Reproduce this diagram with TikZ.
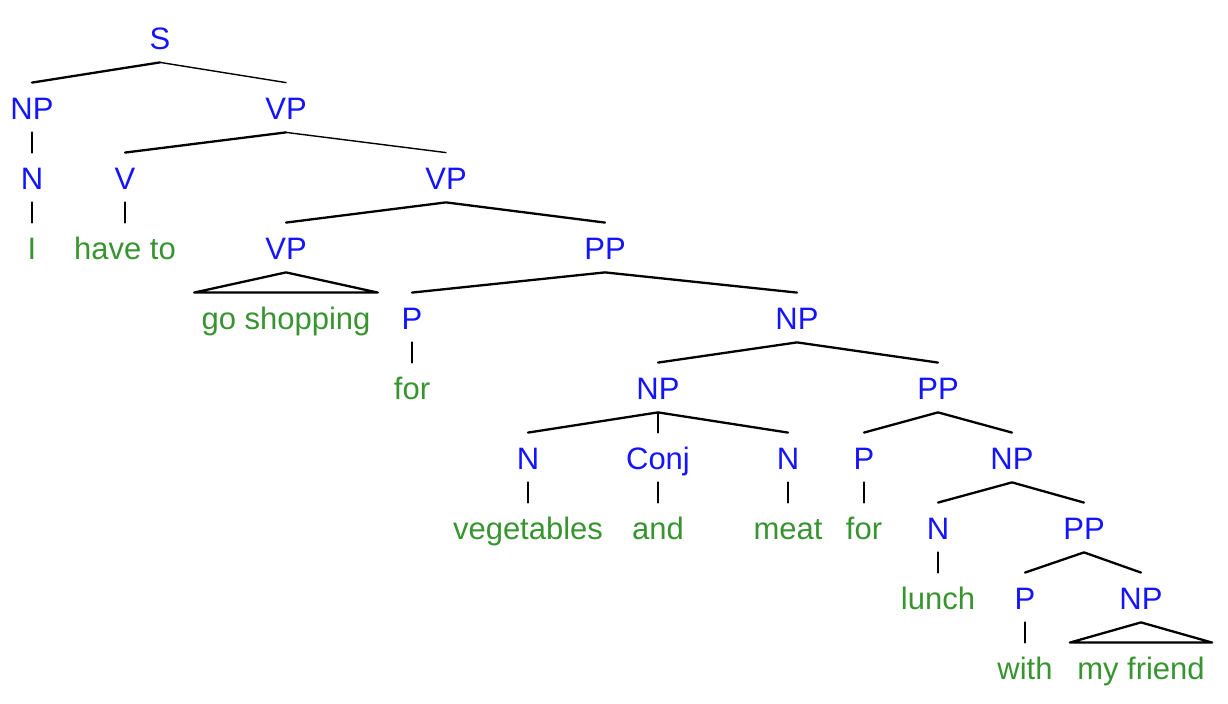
\documentclass[tikz,border=0pt]{standalone}
\usepackage{fontspec}
\setmainfont{Liberation Sans}
\definecolor{catblue}{RGB}{20,20,255}
\definecolor{wordgreen}{RGB}{56,148,48}
\begin{document}
\begin{tikzpicture}[x=0.5pt,y=-0.5pt,
  lbl/.style={inner sep=0pt, anchor=base, text height=18.5pt, text depth=6pt, font=\fontsize{15.5pt}{18pt}\selectfont},
  catn/.style={lbl, text=catblue},
  wordn/.style={lbl, text=wordgreen},
  br/.style={line width=1.15pt, line cap=round, line join=round, black},
  thinbr/.style={line width=0.7pt, line cap=round, black}]
\useasboundingbox (0,0) rectangle (1228,704);
% row 1
\node[catn] (s) at (160,50) {S};
% row 2
\node[catn] (np1) at (32,120) {NP};
\node[catn] (vp1) at (286,120) {VP};
% row 3
\node[catn] (n1) at (32,190) {N};
\node[catn] (v1) at (125,190) {V};
\node[catn] (vp2) at (446,190) {VP};
% row 4
\node[wordn] (wI) at (32,260) {I};
\node[wordn] (whave) at (125,260) {have to};
\node[catn] (vp3) at (286,260) {VP};
\node[catn] (pp1) at (605,260) {PP};
% row 5
\node[wordn] (wgo) at (286,330) {go shopping};
\node[catn] (p1) at (412,330) {P};
\node[catn] (np2) at (797,330) {NP};
% row 6
\node[wordn] (wfor1) at (412,400) {for};
\node[catn] (np3) at (658,400) {NP};
\node[catn] (pp2) at (938,400) {PP};
% row 7
\node[catn] (n2) at (528,470) {N};
\node[catn] (conj) at (658,470) {Conj};
\node[catn] (n3) at (788,470) {N};
\node[catn] (p2) at (864,470) {P};
\node[catn] (np4) at (1012,470) {NP};
% row 8
\node[wordn] (wveg) at (528,540) {vegetables};
\node[wordn] (wand) at (658,540) {and};
\node[wordn] (wmeat) at (788,540) {meat};
\node[wordn] (wfor2) at (864,540) {for};
\node[catn] (n4) at (938,540) {N};
\node[catn] (pp3) at (1084,540) {PP};
% row 9
\node[wordn] (wlunch) at (938,610) {lunch};
\node[catn] (p3) at (1025,610) {P};
\node[catn] (np5) at (1141,610) {NP};
% row 10
\node[wordn] (wwith) at (1025,680) {with};
\node[wordn] (wfriend) at (1141,680) {my friend};
% branches
\draw[br] (np1.north) -- (s.south);
\draw[thinbr] (s.south) -- (vp1.north);
\draw[br] (np1.south) -- (n1.north);
\draw[br] (n1.south) -- (wI.north);
\draw[br] (v1.north) -- (vp1.south);
\draw[thinbr] (vp1.south) -- (vp2.north);
\draw[br] (v1.south) -- (whave.north);
\draw[br] (vp3.north) -- (vp2.south) -- (pp1.north);
\draw[br] (vp3.south) -- ([xshift=-3.5pt]wgo.north west) -- ([xshift=3.5pt]wgo.north east) -- cycle;
\draw[br] (p1.north) -- (pp1.south) -- (np2.north);
\draw[br] (p1.south) -- (wfor1.north);
\draw[br] (np3.north) -- (np2.south) -- (pp2.north);
\draw[br] (n2.north) -- (np3.south) -- (n3.north);
\draw[br] (np3.south) -- (conj.north);
\draw[br] (n2.south) -- (wveg.north);
\draw[br] (conj.south) -- (wand.north);
\draw[br] (n3.south) -- (wmeat.north);
\draw[br] (p2.north) -- (pp2.south) -- (np4.north);
\draw[br] (p2.south) -- (wfor2.north);
\draw[br] (n4.north) -- (np4.south) -- (pp3.north);
\draw[br] (n4.south) -- (wlunch.north);
\draw[br] (p3.north) -- (pp3.south) -- (np5.north);
\draw[br] (p3.south) -- (wwith.north);
\draw[br] (np5.south) -- ([xshift=-3.5pt]wfriend.north west) -- ([xshift=3.5pt]wfriend.north east) -- cycle;
\end{tikzpicture}
\end{document}
